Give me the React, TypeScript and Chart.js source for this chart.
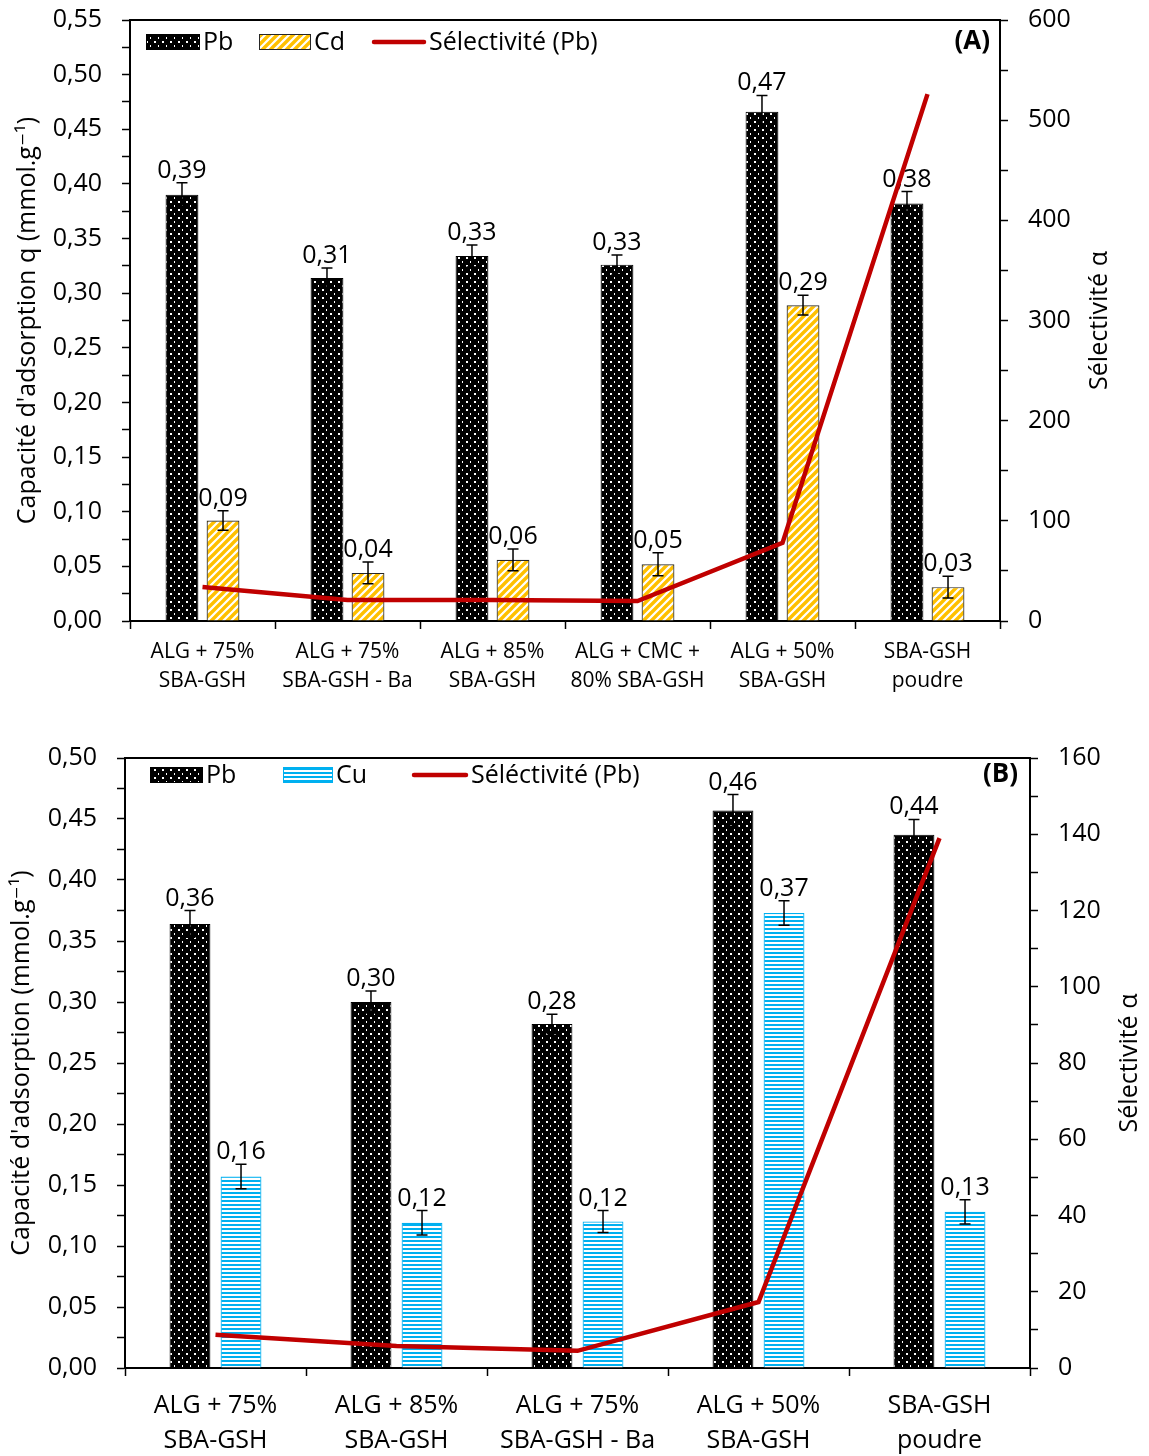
import React, { useEffect, useRef } from 'react';
import { Chart, registerables } from 'chart.js';

Chart.register(...registerables);

const FONT = "'Open Sans', 'DejaVu Sans', sans-serif";

// ---------- Chart A data ----------
const categoriesA = [
  ['ALG + 75%', 'SBA-GSH'],
  ['ALG + 75%', 'SBA-GSH - Ba'],
  ['ALG + 85%', 'SBA-GSH'],
  ['ALG + CMC +', '80% SBA-GSH'],
  ['ALG + 50%', 'SBA-GSH'],
  ['SBA-GSH', 'poudre'],
];
const pbA = [0.39, 0.314, 0.334, 0.326, 0.466, 0.382];
const pbErrA = [0.011, 0.009, 0.01, 0.009, 0.015, 0.011];
const cdA = [0.092, 0.044, 0.056, 0.052, 0.289, 0.031];
const cdErrA = [0.009, 0.01, 0.01, 0.0105, 0.009, 0.01];
const selA = [34, 21, 21, 20, 78, 526];

// ---------- Chart B data ----------
const categoriesB = [
  ['ALG + 75%', 'SBA-GSH'],
  ['ALG + 85%', 'SBA-GSH'],
  ['ALG + 75%', 'SBA-GSH - Ba'],
  ['ALG + 50%', 'SBA-GSH'],
  ['SBA-GSH', 'poudre'],
];
const pbB = [0.364, 0.3, 0.282, 0.457, 0.437];
const pbErrB = [0.011, 0.009, 0.008, 0.013, 0.0126];
const cuB = [0.157, 0.119, 0.12, 0.373, 0.128];
const cuErrB = [0.01, 0.01, 0.009, 0.01, 0.01];
const selB = [8.7, 5.8, 4.5, 17.3, 139];

// ---------- patterns ----------
function makePattern(kind: string) {
  const c = document.createElement('canvas');
  const ctx = c.getContext('2d') as CanvasRenderingContext2D;
  if (kind === 'dots') {
    c.width = 8; c.height = 8;
    ctx.fillStyle = '#000'; ctx.fillRect(0, 0, 8, 8);
    ctx.fillStyle = '#fff';
    ctx.fillRect(2, 1, 2, 2);
    ctx.fillRect(6, 5, 1, 2);
  } else if (kind === 'diag') {
    c.width = 8; c.height = 8;
    ctx.fillStyle = '#fff'; ctx.fillRect(0, 0, 8, 8);
    ctx.strokeStyle = '#FFC000'; ctx.lineWidth = 3.4;
    ctx.beginPath();
    ctx.moveTo(-3, 3); ctx.lineTo(3, -3);
    ctx.moveTo(-1, 9); ctx.lineTo(9, -1);
    ctx.moveTo(5, 11); ctx.lineTo(11, 5);
    ctx.stroke();
  } else {
    c.width = 4; c.height = 4;
    ctx.fillStyle = '#fff'; ctx.fillRect(0, 0, 4, 4);
    ctx.fillStyle = '#00B0F0'; ctx.fillRect(0, 0, 4, 2);
  }
  return ctx.createPattern(c, 'repeat') as CanvasPattern;
}

// ---------- plugins ----------
const barExtras = {
  id: 'barExtras',
  afterDatasetDraw(chart: any, args: any, opts: any) {
    const ds = chart.data.datasets[args.index];
    if (ds.type === 'line' || !ds.errorValues) return;
    const y = chart.scales.y;
    const ctx = chart.ctx;
    ctx.save();
    ctx.strokeStyle = '#000';
    ctx.lineWidth = 1.5;
    ctx.fillStyle = '#000';
    ctx.font = `${opts.fontSize}px ${FONT}`;
    ctx.textAlign = 'center';
    ctx.textBaseline = 'alphabetic';
    args.meta.data.forEach((bar: any, i: number) => {
      const v = ds.data[i];
      const e = ds.errorValues[i];
      const yt = y.getPixelForValue(v + e);
      const yb = y.getPixelForValue(v - e);
      const x = bar.x;
      ctx.beginPath();
      ctx.moveTo(x, yt); ctx.lineTo(x, yb);
      ctx.moveTo(x - 5.5, yt); ctx.lineTo(x + 5.5, yt);
      ctx.moveTo(x - 5.5, yb); ctx.lineTo(x + 5.5, yb);
      ctx.stroke();
      ctx.fillText(v.toFixed(2).replace('.', ','), x, yt - 5);
    });
    ctx.restore();
  },
};

const decorations = {
  id: 'decorations',
  afterDraw(chart: any, args: any, opts: any) {
    const ctx = chart.ctx;
    const { left, right, top, bottom } = chart.chartArea;
    ctx.save();
    // top frame line
    ctx.strokeStyle = '#000';
    ctx.lineWidth = 2;
    ctx.beginPath();
    ctx.moveTo(left, top); ctx.lineTo(right, top);
    ctx.stroke();

    // legend
    const ly = top + opts.legendDy;
    ctx.font = `${opts.fontSize}px ${FONT}`;
    ctx.textBaseline = 'middle';
    ctx.textAlign = 'left';
    chart.data.datasets.forEach((ds: any, i: number) => {
      const x = opts.legendX[i];
      const w = opts.legendW[i];
      if (ds.type === 'line') {
        ctx.strokeStyle = ds.borderColor;
        ctx.lineWidth = ds.borderWidth;
        ctx.lineCap = 'round';
        ctx.beginPath();
        ctx.moveTo(x + 2, ly); ctx.lineTo(x + w - 2, ly);
        ctx.stroke();
      } else {
        ctx.fillStyle = ds.backgroundColor;
        ctx.fillRect(x, ly - 8, w, 16);
        ctx.strokeStyle = ds.borderColor;
        ctx.lineWidth = 1;
        ctx.strokeRect(x + 0.5, ly - 8 + 0.5, w - 1, 15);
      }
      ctx.fillStyle = '#000';
      ctx.fillText(ds.label, x + w + 3, ly + 1);
    });

    // panel tag
    ctx.font = `bold ${opts.fontSize + 1}px ${FONT}`;
    ctx.textAlign = 'right';
    ctx.fillText(opts.tag, right - opts.tagDx, top + opts.tagDy);

    // right axis title (reads bottom to top)
    ctx.font = `${opts.fontSize}px ${FONT}`;
    ctx.textAlign = 'center';
    ctx.translate(right + opts.rightTitleDx, (top + bottom) / 2);
    ctx.rotate(-Math.PI / 2);
    ctx.fillText(opts.rightTitle, 0, 0);
    ctx.restore();
  },
};

function fmtTick(step: number, every: number, decimals: number) {
  return (v: number) => {
    const n = Math.round(v / step);
    if (n % every !== 0) return '';
    return (n * step).toFixed(decimals).replace('.', ',');
  };
}

function noOverflow(s: any) {
  s.paddingTop = 0;
  s.paddingBottom = 0;
  s.paddingLeft = 0;
  s.paddingRight = 0;
}

function buildConfig(p: any) {
  const tickFont = { family: FONT, size: 25 };
  const axisGrid = {
    display: true,
    drawOnChartArea: false,
    drawTicks: true,
    tickLength: 8,
    tickWidth: 1.5,
    tickColor: '#000',
    color: '#000',
  };
  return {
    type: 'bar',
    data: {
      labels: p.categories,
      datasets: [
        {
          type: 'bar',
          label: 'Pb',
          data: p.pb,
          errorValues: p.pbErr,
          backgroundColor: makePattern('dots'),
          borderColor: '#000',
          borderWidth: 1,
          categoryPercentage: p.cp,
          barPercentage: 0.8,
          yAxisID: 'y',
          order: 1,
        },
        {
          type: 'bar',
          label: p.metal,
          data: p.metalVals,
          errorValues: p.metalErr,
          backgroundColor: makePattern(p.metalPattern),
          borderColor: p.metalBorder,
          borderWidth: 1.2,
          categoryPercentage: p.cp,
          barPercentage: 0.8,
          yAxisID: 'y',
          order: 1,
        },
        {
          type: 'line',
          label: p.lineLabel,
          data: p.sel,
          borderColor: '#C00000',
          backgroundColor: '#C00000',
          borderWidth: 4.5,
          pointRadius: 0,
          tension: 0,
          fill: false,
          yAxisID: 'y1',
          order: 0,
        },
      ],
    },
    options: {
      responsive: false,
      animation: false,
      devicePixelRatio: 1,
      layout: { padding: { top: p.padTop, left: 0, right: 0, bottom: 0 } },
      plugins: {
        legend: { display: false },
        tooltip: { enabled: false },
        barExtras: { fontSize: 25 },
        decorations: {
          fontSize: 25,
          legendX: p.legendX,
          legendW: p.legendW,
          legendDy: p.legendDy,
          tag: p.tag,
          tagDx: p.tagDx,
          tagDy: p.tagDy,
          rightTitle: 'Sélectivité α',
          rightTitleDx: 100,
        },
      },
      scales: {
        x: {
          type: 'category',
          offset: true,
          grid: { ...axisGrid, offset: true },
          border: { display: true, color: '#000', width: 2 },
          ticks: {
            color: '#000',
            font: { family: FONT, size: p.xFont, lineHeight: p.xLineHeight },
            padding: p.xPad,
            maxRotation: 0,
            minRotation: 0,
            autoSkip: false,
          },
          afterFit: (s: any) => { s.height = p.xHeight; noOverflow(s); },
        },
        y: {
          type: 'linear',
          position: 'left',
          min: 0,
          max: p.yMax,
          grid: axisGrid,
          border: { display: true, color: '#000', width: 2 },
          ticks: {
            stepSize: 0.025,
            maxTicksLimit: 200,
            autoSkip: false,
            color: '#000',
            font: tickFont,
            padding: 20,
            callback: fmtTick(0.025, 2, 2),
          },
          title: {
            display: true,
            text: p.yTitle,
            color: '#000',
            font: { family: FONT, size: 25, lineHeight: 1.2 },
            padding: { top: p.yTitlePad, bottom: 0 },
          },
          afterFit: (s: any) => { s.width = p.leftW; noOverflow(s); },
        },
        y1: {
          type: 'linear',
          position: 'right',
          min: 0,
          max: p.y1Max,
          grid: axisGrid,
          border: { display: true, color: '#000', width: 2 },
          ticks: {
            stepSize: p.y1Minor,
            maxTicksLimit: 200,
            autoSkip: false,
            color: '#000',
            font: tickFont,
            padding: 20,
            callback: fmtTick(p.y1Minor, 2, 0),
          },
          afterFit: (s: any) => { s.width = p.rightW; noOverflow(s); },
        },
      },
    },
    plugins: [barExtras, decorations],
  };
}

const paramsA = {
  categories: categoriesA,
  pb: pbA,
  pbErr: pbErrA,
  metal: 'Cd',
  metalVals: cdA,
  metalErr: cdErrA,
  metalPattern: 'diag',
  metalBorder: '#262626',
  lineLabel: 'Sélectivité (Pb)',
  sel: selA,
  cp: 0.566,
  padTop: 20,
  xFont: 21,
  xLineHeight: 1.38,
  xPad: 9,
  xHeight: 91,
  yMax: 0.55,
  y1Max: 600,
  y1Minor: 50,
  yTitle: "Capacité d'adsorption q (mmol.g⁻¹)",
  yTitlePad: 13,
  leftW: 130,
  rightW: 149,
  legendX: [146, 259, 372],
  legendW: [54, 52, 54],
  legendDy: 22,
  tag: '(A)',
  tagDx: 10,
  tagDy: 22,
};

const paramsB = {
  categories: categoriesB,
  pb: pbB,
  pbErr: pbErrB,
  metal: 'Cu',
  metalVals: cuB,
  metalErr: cuErrB,
  metalPattern: 'hlines',
  metalBorder: '#00B0F0',
  lineLabel: 'Séléctivité (Pb)',
  sel: selB,
  cp: 0.564,
  padTop: 46,
  xFont: 25,
  xLineHeight: 1.38,
  xPad: 13,
  xHeight: 88,
  yMax: 0.5,
  y1Max: 160,
  y1Minor: 10,
  yTitle: "Capacité d'adsorption (mmol.g⁻¹)",
  yTitlePad: 7,
  leftW: 125,
  rightW: 119,
  legendX: [150, 283, 412],
  legendW: [53, 50, 56],
  legendDy: 17,
  tag: '(B)',
  tagDx: 12,
  tagDy: 17,
};

function ChartPanel({ params, width, height }: any) {
  const ref = useRef<HTMLCanvasElement | null>(null);
  useEffect(() => {
    if (!ref.current) return;
    const chart = new Chart(ref.current, buildConfig(params) as any);
    return () => chart.destroy();
  }, [params]);
  return <canvas ref={ref} width={width} height={height} style={{ display: 'block', width, height }} />;
}

export default function App() {
  return (
    <div style={{ position: 'absolute', left: 0, top: 0, width: 1149, height: 1456, background: '#fff' }}>
      <ChartPanel params={paramsA} width={1149} height={712} />
      <ChartPanel params={paramsB} width={1149} height={744} />
    </div>
  );
}
